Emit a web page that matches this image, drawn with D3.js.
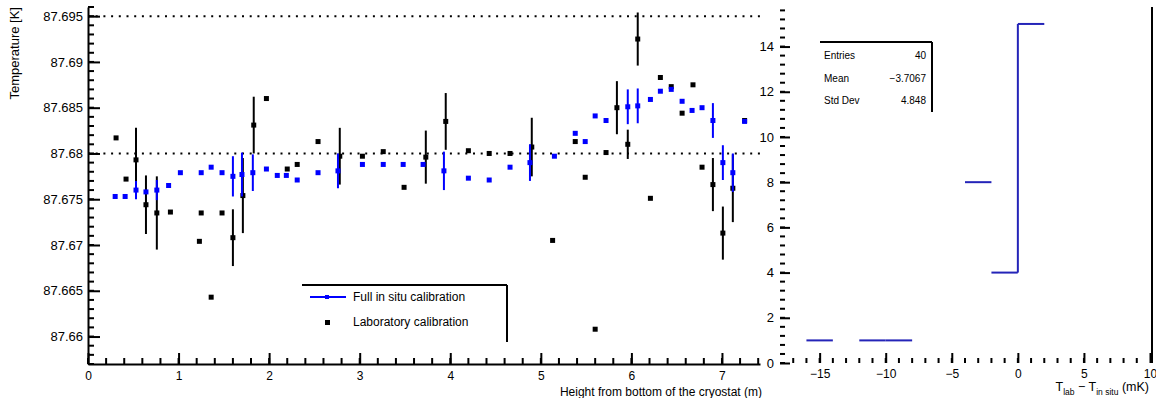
<!DOCTYPE html>
<html>
<head>
<meta charset="utf-8">
<script src="https://cdn.jsdelivr.net/npm/d3@7"></script>
<style>
  html, body { margin: 0; padding: 0; background: #fff; }
  svg { display: block; font-family: "Liberation Sans", Arial, sans-serif; }
</style>
</head>
<body>
<svg id="chart" width="1156" height="398"></svg>
<script>
// ---- Temperature profile: in situ calibration (blue) ----
const insituHeight = [0.30, 0.41, 0.53, 0.64, 0.76, 0.89, 1.02, 1.25, 1.36, 1.48, 1.60, 1.70, 1.82, 1.97, 2.09, 2.19,
  2.31, 2.54, 2.76, 3.03, 3.26, 3.48, 3.70, 3.93, 4.20, 4.43, 4.66, 4.88, 5.15, 5.38, 5.49, 5.60, 5.72, 5.96, 6.07,
  6.21, 6.32, 6.44, 6.56, 6.67, 6.78, 6.90, 7.01, 7.12, 7.25];
const insituTemp = [87.6753, 87.6753, 87.6760, 87.6758, 87.6760, 87.6765, 87.6779, 87.6779, 87.6785, 87.6779, 87.6775,
  87.6777, 87.6779, 87.6783, 87.6776, 87.6776, 87.6771, 87.6779, 87.6781, 87.6788, 87.6788, 87.6788, 87.6788, 87.6781,
  87.6773, 87.6771, 87.6785, 87.6790, 87.6797, 87.6822, 87.6813, 87.6841, 87.6836, 87.6851, 87.6852, 87.6859, 87.6868,
  87.6870, 87.6857, 87.6847, 87.6850, 87.6836, 87.6790, 87.6779, 87.6835];
const insituErr = [0, 0, 0.0010, 0, 0.0011, 0, 0, 0, 0, 0, 0.0022, 0.0024, 0.0020, 0, 0, 0, 0, 0, 0.0019, 0, 0, 0, 0,
  0.0021, 0, 0, 0, 0.0020, 0, 0, 0, 0, 0, 0.0019, 0.0019, 0, 0, 0, 0, 0, 0, 0.0019, 0.0019, 0.0021, 0];

// ---- Temperature profile: laboratory calibration (black) ----
const labHeight = [0.31, 0.42, 0.53, 0.64, 0.76, 0.91, 1.23, 1.25, 1.36, 1.48, 1.60, 1.71, 1.83, 1.97, 2.20, 2.31,
  2.54, 2.78, 3.03, 3.26, 3.49, 3.73, 3.95, 4.20, 4.43, 4.66, 4.90, 5.13, 5.38, 5.49, 5.60, 5.72, 5.84, 5.96, 6.07,
  6.21, 6.32, 6.44, 6.56, 6.68, 6.78, 6.90, 7.01, 7.12, 7.25];
const labTemp = [87.6817, 87.6772, 87.6793, 87.6744, 87.6735, 87.6736, 87.6704, 87.6735, 87.6643, 87.6735, 87.6708,
  87.6754, 87.6831, 87.6860, 87.6783, 87.6788, 87.6813, 87.6797, 87.6797, 87.6802, 87.6763, 87.6796, 87.6835, 87.6803,
  87.6800, 87.6800, 87.6807, 87.6705, 87.6813, 87.6774, 87.6608, 87.6801, 87.6850, 87.6810, 87.6925, 87.6751, 87.6883,
  87.6873, 87.6844, 87.6875, 87.6785, 87.6766, 87.6713, 87.6762, 87.6836];
const labErr = [0, 0, 0.0035, 0.0032, 0.0040, 0, 0, 0, 0, 0, 0.0031, 0.0041, 0.0031, 0, 0, 0, 0, 0.0031, 0, 0, 0,
  0.0029, 0.0031, 0, 0, 0, 0.0032, 0, 0, 0, 0, 0, 0.0029, 0.0016, 0.0029, 0, 0, 0, 0, 0, 0, 0.0029, 0.0029, 0.0037, 0];

// ---- Left axis ticks ----
const tempTicks = [87.66, 87.665, 87.67, 87.675, 87.68, 87.685, 87.69, 87.695];
const tempTickLabels = ["87.66", "87.665", "87.67", "87.675", "87.68", "87.685", "87.69", "87.695"];
const heightTicks = [0, 1, 2, 3, 4, 5, 6, 7];
const referenceLines = [87.695, 87.68];

// ---- Difference histogram ----
const binLow = [-18, -16, -14, -12, -10, -8, -6, -4, -2, 0, 2, 4, 6, 8];
const binCounts = [0, 1, 0, 1, 1, 0, 0, 8, 4, 15, 0, 0, 0, 0];
const binWidth = 2;
const diffTicks = [-15, -10, -5, 0, 5, 10];
const countTicks = [0, 2, 4, 6, 8, 10, 12, 14];
const statNames = ["Entries", "Mean", "Std Dev"];
const statValues = ["40", "\u22123.7067", "4.848"];

const legendLabels = ["Full in situ calibration", "Laboratory calibration"];

const svg = d3.select("#chart");
const BLUE = "#0000ff";
const HBLUE = "#2424b8";

// ================= left panel =================
const x = d3.scaleLinear().domain([0, 7.42]).range([88, 760]);
const y = d3.scaleLinear().domain([87.657, 87.696]).range([364, 7]);

const left = svg.append("g");

// dotted reference levels
left.selectAll("line.ref").data(referenceLines).join("line")
  .attr("x1", x(0)).attr("x2", x(7.42))
  .attr("y1", d => y(d)).attr("y2", d => y(d))
  .attr("stroke", "#000").attr("stroke-width", 2)
  .attr("stroke-dasharray", "2,5.7");

// minor ticks (y every 0.001, x every 0.2)
const yMinor = d3.range(87.657, 87.6961, 0.001).map(v => +v.toFixed(3));
left.selectAll("line.ymin").data(yMinor).join("line")
  .attr("x1", x(0)).attr("x2", x(0) + 6)
  .attr("y1", d => y(d)).attr("y2", d => y(d))
  .attr("stroke", "#000").attr("stroke-width", 2);
const xMinor = d3.range(0, 7.41, 0.2).map(v => +v.toFixed(1));
left.selectAll("line.xmin").data(xMinor).join("line")
  .attr("x1", d => x(d)).attr("x2", d => x(d))
  .attr("y1", y.range()[0]).attr("y2", y.range()[0] - 6)
  .attr("stroke", "#000").attr("stroke-width", 2);

// y axis
const yAxis = d3.axisLeft(y).tickValues(tempTicks)
  .tickFormat((d, i) => tempTickLabels[i]).tickSizeInner(-12).tickSizeOuter(0).tickPadding(5);
const gy = left.append("g").attr("transform", `translate(${x(0)},0)`).call(yAxis);
gy.select(".domain").attr("stroke-width", 2);
gy.selectAll(".tick line").attr("stroke-width", 2);
gy.selectAll(".tick text").attr("font-size", 13).attr("fill", "#000");

// x axis
const xAxis = d3.axisBottom(x).tickValues(heightTicks).tickFormat(d3.format("d"))
  .tickSizeInner(-11).tickSizeOuter(0).tickPadding(7);
const gx = left.append("g").attr("transform", `translate(0,${y.range()[0]})`).call(xAxis);
gx.select(".domain").attr("stroke-width", 2);
gx.selectAll(".tick line").attr("stroke-width", 2);
gx.selectAll(".tick text").attr("font-size", 12).attr("fill", "#000");

// axis titles
left.append("text")
  .attr("transform", `translate(19,7) rotate(-90)`)
  .attr("text-anchor", "end").attr("font-size", 13)
  .text("Temperature [K]");
left.append("text")
  .attr("x", 762).attr("y", 396).attr("text-anchor", "end").attr("font-size", 12)
  .text("Height from bottom of the cryostat (m)");

// series drawing helper
function drawSeries(hs, ts, es, color) {
  const g = left.append("g");
  const pts = hs.map((h, i) => ({ h, t: ts[i], e: es[i] }));
  g.selectAll("line.err").data(pts.filter(p => p.e > 0)).join("line")
    .attr("x1", p => x(p.h)).attr("x2", p => x(p.h))
    .attr("y1", p => y(p.t - p.e)).attr("y2", p => y(p.t + p.e))
    .attr("stroke", color).attr("stroke-width", 2);
  g.selectAll("rect.pt").data(pts).join("rect")
    .attr("x", p => x(p.h) - 2.5).attr("y", p => y(p.t) - 2.5)
    .attr("width", 5).attr("height", 5).attr("fill", color);
}
drawSeries(labHeight, labTemp, labErr, "#000");
drawSeries(insituHeight, insituTemp, insituErr, BLUE);

// legend
const leg = left.append("g");
leg.append("line").attr("x1", 302).attr("x2", 507).attr("y1", 285).attr("y2", 285)
  .attr("stroke", "#000").attr("stroke-width", 2);
leg.append("line").attr("x1", 507).attr("x2", 507).attr("y1", 285).attr("y2", 342)
  .attr("stroke", "#000").attr("stroke-width", 2);
leg.append("line").attr("x1", 310).attr("x2", 346).attr("y1", 297).attr("y2", 297)
  .attr("stroke", BLUE).attr("stroke-width", 2);
leg.append("rect").attr("x", 325).attr("y", 295).attr("width", 4).attr("height", 4).attr("fill", BLUE);
leg.append("rect").attr("x", 325).attr("y", 320).attr("width", 5).attr("height", 5).attr("fill", "#000");
leg.selectAll("text").data(legendLabels).join("text")
  .attr("x", 353).attr("y", (d, i) => 301 + i * 25)
  .attr("font-size", 12).text(d => d);

// ================= right panel =================
const hx = d3.scaleLinear().domain([-18, 10]).range([780, 1150]);
const hy = d3.scaleLinear().domain([0, 15.75]).range([363, 7]);
const right = svg.append("g");

// minor ticks
const hyMinor = d3.range(0, 15.75, 0.4);
right.selectAll("line.hymin").data(hyMinor).join("line")
  .attr("x1", hx(-18)).attr("x2", hx(-18) + 5)
  .attr("y1", d => hy(d)).attr("y2", d => hy(d))
  .attr("stroke", "#000").attr("stroke-width", 2);
const hxMinor = d3.range(-17, 10, 1);
right.selectAll("line.hxmin").data(hxMinor).join("line")
  .attr("x1", d => hx(d)).attr("x2", d => hx(d))
  .attr("y1", hy(0)).attr("y2", hy(0) - 5)
  .attr("stroke", "#000").attr("stroke-width", 2);

const hyAxis = d3.axisLeft(hy).tickValues(countTicks).tickFormat(d3.format("d"))
  .tickSizeInner(-10).tickSizeOuter(0).tickPadding(6);
const ghy = right.append("g").attr("transform", `translate(${hx(-18)},0)`).call(hyAxis);
ghy.select(".domain").remove();
ghy.selectAll(".tick line").attr("stroke-width", 2);
ghy.selectAll(".tick text").attr("font-size", 13).attr("fill", "#000");

const hxAxis = d3.axisBottom(hx).tickValues(diffTicks).tickFormat(d3.format("d"))
  .tickSizeInner(-10).tickSizeOuter(0).tickPadding(6);
const ghx = right.append("g").attr("transform", `translate(0,${hy(0)})`).call(hxAxis);
ghx.select(".domain").remove();
ghx.selectAll(".tick line").attr("stroke-width", 2);
ghx.selectAll(".tick text").attr("font-size", 12).attr("fill", "#000");

// right frame edge
right.append("line").attr("x1", 1152).attr("x2", 1152).attr("y1", 7).attr("y2", hy(0))
  .attr("stroke", "#000").attr("stroke-width", 2);

// histogram: bin tops and rising edges
const bins = binLow.map((lo, i) => ({ lo, c: binCounts[i], prev: i > 0 ? binCounts[i - 1] : 0 }));
right.selectAll("line.top").data(bins.filter(b => b.c > 0)).join("line")
  .attr("x1", b => hx(b.lo)).attr("x2", b => hx(b.lo + binWidth))
  .attr("y1", b => hy(b.c)).attr("y2", b => hy(b.c))
  .attr("stroke", HBLUE).attr("stroke-width", 2);
right.selectAll("line.rise").data(bins.filter(b => b.prev > 0 && b.c > b.prev)).join("line")
  .attr("x1", b => hx(b.lo)).attr("x2", b => hx(b.lo))
  .attr("y1", b => hy(b.prev)).attr("y2", b => hy(b.c))
  .attr("stroke", HBLUE).attr("stroke-width", 2);

// statistics box
const st = right.append("g");
st.append("line").attr("x1", 820).attr("x2", 932).attr("y1", 42).attr("y2", 42)
  .attr("stroke", "#000").attr("stroke-width", 2);
st.append("line").attr("x1", 932).attr("x2", 932).attr("y1", 42).attr("y2", 112)
  .attr("stroke", "#000").attr("stroke-width", 2);
st.selectAll("text.n").data(statNames).join("text")
  .attr("x", 824).attr("y", (d, i) => 59 + i * 22.5).attr("font-size", 10).text(d => d);
st.selectAll("text.v").data(statValues).join("text")
  .attr("x", 926).attr("y", (d, i) => 59 + i * 22.5).attr("font-size", 10)
  .attr("text-anchor", "end").text(d => d);

// x title with subscripts
const ht = right.append("text").attr("x", 1149).attr("y", 391).attr("text-anchor", "end").attr("font-size", 12.5);
ht.append("tspan").text("T");
ht.append("tspan").attr("font-size", 8.5).attr("dy", 4).text("lab");
ht.append("tspan").attr("dy", -4).text(" \u2212 T");
ht.append("tspan").attr("font-size", 8.5).attr("dy", 4).text("in situ");
ht.append("tspan").attr("dy", -4).text(" (mK)");
</script>
</body>
</html>
